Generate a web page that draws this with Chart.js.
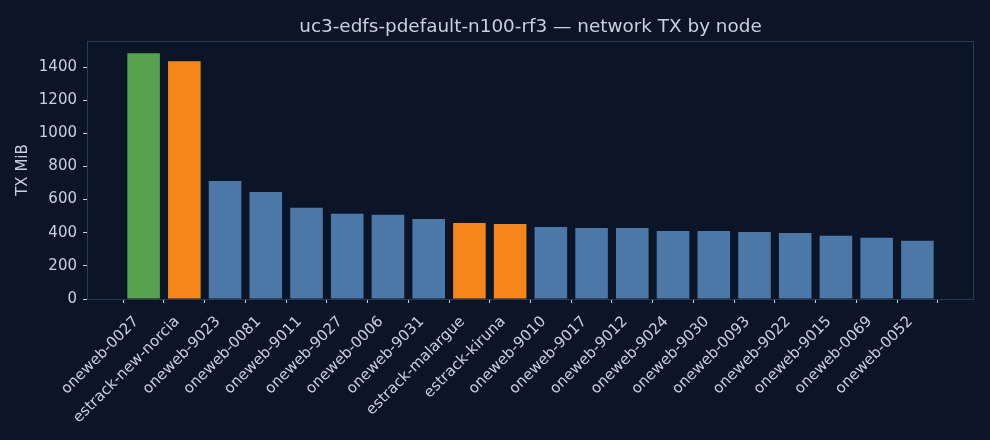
<!DOCTYPE html>
<html>
<head>
<meta charset="utf-8">
<script src="https://cdn.jsdelivr.net/npm/chart.js@4.4.1/dist/chart.umd.min.js"></script>
<style>
  html, body { margin: 0; padding: 0; background: #0b1527; }
  #wrap { width: 990px; height: 440px; }
</style>
</head>
<body>
<div id="wrap"><canvas id="txChart" width="990" height="440"></canvas></div>
<script>
// ---- data ----
const nodes = [
  'oneweb-0027', 'estrack-new-norcia', 'oneweb-9023', 'oneweb-0081', 'oneweb-9011',
  'oneweb-9027', 'oneweb-0006', 'oneweb-9031', 'estrack-malargue', 'estrack-kiruna',
  'oneweb-9010', 'oneweb-9017', 'oneweb-9012', 'oneweb-9024', 'oneweb-9030',
  'oneweb-0093', 'oneweb-9022', 'oneweb-9015', 'oneweb-0069', 'oneweb-0052',
];
const txMiB = [
  1483, 1435, 712, 646, 550,
  514, 508, 483, 459, 453,
  435, 429, 428, 411, 410,
  405, 399, 381, 369, 351,
];
const yTicks = [0, 200, 400, 600, 800, 1000, 1200, 1400];
const sourceNode = 'oneweb-0027';
const chartTitle = 'uc3-edfs-pdefault-n100-rf3 — network TX by node';

// colours: source node green, ground stations orange, the rest blue
const GREEN = '#59a14f';
const ORANGE = '#f5871a';
const BLUE = '#4c78a8';
const TEXT = '#c9d1dd';
const SPINE = '#2a3852';

const barColors = nodes.map((n) => {
  if (n === sourceNode) return GREEN;
  if (n.startsWith('estrack')) return ORANGE;
  return BLUE;
});

// frame around the plot area (all four spines) + title centred over the axes
const frame = {
  id: 'frame',
  afterDatasetsDraw(chart) {
    const { ctx, chartArea: a } = chart;
    ctx.save();
    ctx.strokeStyle = SPINE;
    ctx.lineWidth = 1;
    ctx.strokeRect(a.left + 0.5, a.top + 0.5, a.right - a.left - 1, a.bottom - a.top);

    ctx.fillStyle = TEXT;
    ctx.font = '18.4px "DejaVu Sans", sans-serif';
    ctx.textAlign = 'center';
    ctx.textBaseline = 'alphabetic';
    ctx.fillText(chartTitle, (a.left + a.right) / 2, 32);
    ctx.restore();
  },
};

Chart.defaults.font.family = '"DejaVu Sans", sans-serif';
Chart.defaults.color = TEXT;

new Chart(document.getElementById('txChart'), {
  type: 'bar',
  data: {
    datasets: [{
      data: txMiB.map((v, i) => ({ x: i, y: v })),
      backgroundColor: barColors,
      borderWidth: 0,
      barPercentage: 0.8,
      categoryPercentage: 1.0,
    }],
  },
  options: {
    responsive: false,
    animation: false,
    layout: { padding: { left: 0, right: 16, top: 41, bottom: 0 } },
    plugins: {
      legend: { display: false },
      tooltip: { enabled: false },
      title: { display: false },
    },
    scales: {
      x: {
        type: 'linear',
        min: -1.39,
        max: 20.39,
        offset: false,
        afterBuildTicks: (scale) => {
          scale.ticks = nodes.map((_, i) => ({ value: i }));
        },
        afterFit: (scale) => { scale.height = 141; },
        grid: {
          drawOnChartArea: false,
          drawTicks: true,
          tickLength: 4,
          color: TEXT,
        },
        border: { display: false },
        ticks: {
          autoSkip: false,
          maxRotation: 45,
          minRotation: 45,
          padding: 10,
          labelOffset: -7,
          color: TEXT,
          font: { size: 15 },
          callback: (v) => nodes[v] ?? '',
        },
      },
      y: {
        min: 0,
        max: 1557,
        afterBuildTicks: (scale) => {
          scale.ticks = yTicks.map((v) => ({ value: v }));
        },
        afterFit: (scale) => { scale.width = 87; },
        grid: {
          drawOnChartArea: false,
          drawTicks: true,
          tickLength: 4,
          color: TEXT,
        },
        border: { display: false },
        ticks: {
          padding: 6,
          color: TEXT,
          font: { size: 15 },
          callback: (v) => String(v),
        },
        title: {
          display: true,
          text: 'TX MiB',
          color: TEXT,
          font: { size: 15 },
          padding: { top: 14.5, bottom: 0 },
        },
      },
    },
  },
  plugins: [frame],
});
</script>
</body>
</html>
